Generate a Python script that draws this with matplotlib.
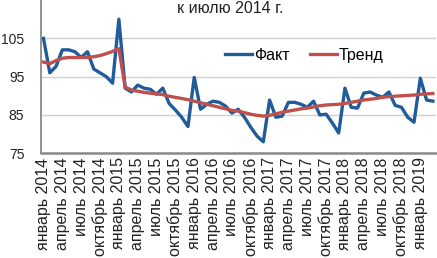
import numpy as np
import matplotlib
matplotlib.use("Agg")
import matplotlib.pyplot as plt

plt.rcParams['font.family'] = ['Liberation Sans Narrow', 'Liberation Sans', 'DejaVu Sans']

# ------------------------------------------------------------
# данные: январь 2014 - март 2019, помесячно
# ------------------------------------------------------------
fact = [105.0, 96.0, 97.7, 102.0, 102.0, 101.5, 100.0, 101.5, 97.0, 96.0, 95.0, 93.3,
        110.0, 92.0, 91.0, 92.8, 92.0, 91.7, 90.4, 92.0, 88.0, 86.3, 84.4, 82.0,
        94.8, 86.5, 87.8, 88.6, 88.3, 87.3, 85.5, 86.5, 84.4, 81.8, 79.5, 78.0,
        88.9, 84.4, 84.7, 88.3, 88.3, 87.8, 87.0, 88.6, 85.0, 85.2, 82.9, 80.3,
        92.0, 87.0, 86.8, 90.7, 91.0, 90.2, 89.6, 91.0, 87.5, 87.0, 84.4, 83.1,
        94.6, 88.9, 88.6]

trend = [98.8, 98.4, 99.2, 99.8, 100.0, 100.0, 100.0, 100.0, 100.2, 100.5, 101.0, 101.6,
         102.3, 92.3, 91.5, 91.2, 90.9, 90.7, 90.5, 90.3, 89.9, 89.6, 89.3, 89.0,
         88.6, 88.2, 87.8, 87.4, 87.0, 86.6, 86.2, 86.0, 85.6, 85.2, 84.9, 84.7,
         84.9, 85.3, 85.7, 86.0, 86.3, 86.6, 86.8, 87.1, 87.4, 87.6, 87.7, 87.8,
         88.0, 88.3, 88.6, 88.9, 89.1, 89.3, 89.6, 89.8, 89.9, 90.0, 90.1, 90.2,
         90.4, 90.5, 90.6]

months = ['январь', 'апрель', 'июль', 'октябрь']
years = [2014, 2015, 2016, 2017, 2018, 2019]
tick_labels = [f'{m} {y}' for y in years for m in months][:21]

yticks = [75, 85, 95, 105]

# ------------------------------------------------------------
# график
# ------------------------------------------------------------
fig = plt.figure(figsize=(4.37, 2.58), dpi=100)
ax = fig.add_axes([41 / 437, 104.7 / 258, 395 / 437, 153.3 / 258])

x = np.arange(len(fact))
ax.plot(x, fact, color='#1f5c99', linewidth=2.4, label='Факт', solid_joinstyle='round')
ax.plot(x, trend, color='#c0504d', linewidth=2.4, label='Тренд', solid_joinstyle='round')

ax.set_xlim(-0.4, len(fact) - 0.5)
ax.set_ylim(75, 115)
ax.set_yticks(yticks)
ax.set_yticklabels([str(t) for t in yticks], fontsize=10, color='#222222',
                   family=['Liberation Sans', 'DejaVu Sans'])
ax.set_xticks(x[::3])
ax.set_xticklabels(tick_labels, rotation=90, fontsize=11.5, color='#222222')
ax.tick_params(axis='x', length=0, pad=3)
ax.tick_params(axis='y', length=0, pad=12)

ax.grid(axis='y', color='#d0d0d0', linewidth=1)
ax.set_axisbelow(True)
for s in ['top', 'right']:
    ax.spines[s].set_visible(False)
ax.spines['left'].set_color('#8a8a8a')
ax.spines['left'].set_linewidth(1.3)
ax.spines['bottom'].set_color('#8a8a8a')
ax.spines['bottom'].set_linewidth(1.8)

ax.legend(loc='center left', bbox_to_anchor=(0.43, 0.64), ncol=2, frameon=False,
          fontsize=11.5, handlelength=1.65, handletextpad=0.15, columnspacing=1.3)

fig.text(0.527, 0.995, 'к июлю 2014 г.', ha='center', va='top', fontsize=11.5, color='#222222')

fig.savefig('out.png', dpi=100)
